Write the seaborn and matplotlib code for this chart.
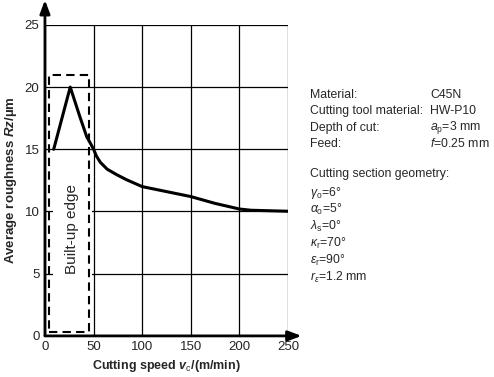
import matplotlib
matplotlib.use('Agg')
import matplotlib.pyplot as plt
import numpy as np
import pandas as pd
import seaborn as sns
from matplotlib.patches import Rectangle

# values
speed = [9, 26, 36, 43, 47, 50, 53, 57, 64, 74, 84, 100, 125, 150, 175, 200, 212, 250]
roughness = [15.0, 20.0, 17.6, 16.0, 15.45, 15.0, 14.45, 13.95, 13.4, 12.95, 12.55, 12.0, 11.6, 11.2, 10.65, 10.2, 10.1, 10.02]
x_ticks = [0, 50, 100, 150, 200, 250]
y_ticks = [0, 5, 10, 15, 20, 25]
bue_box = (4, 0.3, 45, 21)  # x0, y0, x1, y1 of the built-up edge zone

left_labels = ['Material:', 'Cutting tool material:', 'Depth of cut:', 'Feed:']
right_labels = ['C45N', 'HW-P10', r'$a_\mathrm{p}$=3 mm', r'$f$=0.25 mm']
geometry = [r'$\gamma_\mathrm{o}$=6°', r'$\alpha_\mathrm{o}$=5°', r'$\lambda_\mathrm{s}$=0°',
            r'$\kappa_\mathrm{r}$=70°', r'$\varepsilon_\mathrm{r}$=90°', r'$r_\varepsilon$=1.2 mm']

sns.set_style('white')
plt.rcParams['font.family'] = ['Liberation Sans', 'DejaVu Sans']
plt.rcParams['mathtext.fontset'] = 'custom'
plt.rcParams['mathtext.rm'] = 'Liberation Sans'
plt.rcParams['mathtext.it'] = 'Liberation Sans:italic'
plt.rcParams['mathtext.bf'] = 'Liberation Sans:bold'
plt.rcParams['mathtext.bfit'] = 'Liberation Sans:bold:italic'

df = pd.DataFrame({'vc': speed, 'Rz': roughness})

fig = plt.figure(figsize=(4.94, 3.77), dpi=100)
ax = fig.add_axes([0.091, 0.109, 0.492, 0.825])

sns.lineplot(data=df, x='vc', y='Rz', ax=ax, color='black', linewidth=2.2, zorder=5)

ax.set_xlim(0, 250)
ax.set_ylim(0, 25)
ax.set_xticks(x_ticks)
ax.set_yticks(y_ticks)
ax.tick_params(labelsize=9.5, length=0, pad=4)
ax.grid(True, color='black', linewidth=0.9)
for s in ax.spines.values():
    s.set_visible(False)

# thick axes with arrows
ax.annotate('', xy=(0, 27.0), xytext=(0, 0), xycoords='data', annotation_clip=False,
            arrowprops=dict(arrowstyle='-|>,head_length=0.8,head_width=0.3', lw=2, color='black',
                            shrinkA=0, shrinkB=0))
ax.annotate('', xy=(264, 0), xytext=(0, 0), xycoords='data', annotation_clip=False,
            arrowprops=dict(arrowstyle='-|>,head_length=0.8,head_width=0.3', lw=2, color='black',
                            shrinkA=0, shrinkB=0))

x0, y0, x1, y1 = bue_box
ax.add_patch(Rectangle((x0, y0), x1 - x0, y1 - y0, fill=False, edgecolor='black',
                       linestyle=(0, (4, 2.5)), linewidth=1.5, zorder=7))
ax.text(28, 8.6, 'Built-up edge', rotation=90, ha='center', va='center', fontsize=11,
        zorder=6, bbox=dict(facecolor='white', edgecolor='none', pad=9))

ax.set_xlabel(r'Cutting speed $\mathbfit{v}_\mathrm{c}$/(m/min)', fontsize=9, fontweight='bold', labelpad=3)
ax.set_ylabel(r'Average roughness $\mathbfit{Rz}$/µm', fontsize=9.5, fontweight='bold', labelpad=4)

# specification text block
fx = 310 / 494
fx2 = 430 / 494
fs = 8.8
for i, (a, b) in enumerate(zip(left_labels, right_labels)):
    yy = 1 - (95 + i * 16.3) / 377
    fig.text(fx, yy, a, fontsize=fs, va='center')
    fig.text(fx2, yy, b, fontsize=fs, va='center')
fig.text(fx, 1 - 174 / 377, 'Cutting section geometry:', fontsize=fs, va='center')
for i, g in enumerate(geometry):
    fig.text(fx, 1 - (193 + i * 16.8) / 377, g, fontsize=fs, va='center')

fig.savefig('out.png', dpi=100)
